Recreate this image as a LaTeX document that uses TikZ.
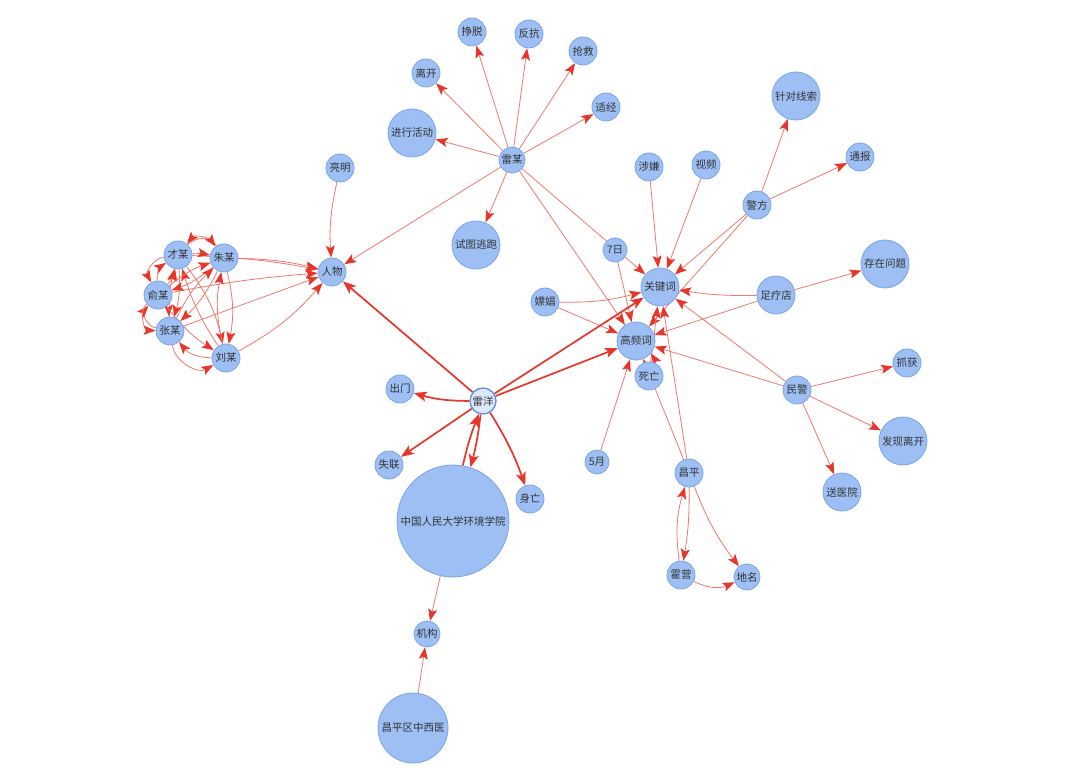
\documentclass[tikz,border=0pt]{standalone}
\usepackage{fontspec}
\setmainfont{Noto Sans CJK SC}
\usetikzlibrary{arrows.meta}
\definecolor{nfill}{HTML}{9DBFF4}
\definecolor{nbord}{HTML}{78A4EC}
\definecolor{ered}{HTML}{F0786C}
\definecolor{ared}{HTML}{E8352A}
\definecolor{tgray}{HTML}{333333}
\definecolor{lyfill}{HTML}{DCE9FC}
\definecolor{lybord}{HTML}{5B8FE0}
\pgfdeclarelayer{bg}
\pgfsetlayers{bg,main}
\begin{document}
\begin{tikzpicture}[x=1pt,y=-1pt,
  nd/.style={circle,draw=nbord,fill=nfill,line width=0.8pt,inner sep=0pt,text=tgray,font=\fontsize{10.5}{12}\selectfont},
  s/.style={nd,minimum size=28pt},
  m/.style={nd,minimum size=38pt},
  l/.style={nd,minimum size=48pt},
  ln/.style={draw=ered,line width=0.8pt,-{Stealth[length=12pt,width=9pt,inset=2.5pt,color=ared]}},
  th/.style={draw=ared,line width=1.7pt,-{Stealth[length=13pt,width=10pt,inset=3pt]}}]
\useasboundingbox (0,0) rectangle (1080,770);
% nodes
\node[s] (liangming) at (340,168) {亮明};
\node[s] (renwu) at (332,272) {人物};
\node[s] (caimou) at (178,255) {才某};
\node[s] (zhumou) at (224,258) {朱某};
\node[s] (yumou) at (158,295) {俞某};
\node[s] (zhangmou) at (170,331) {张某};
\node[s] (liumou) at (226,358) {刘某};
\node[s,minimum size=26pt] (leimou) at (512,160) {雷某};
\node[s] (likai) at (426,73) {离开};
\node[s] (zhengtuo) at (472,32) {挣脱};
\node[s] (fankang) at (529,34) {反抗};
\node[s] (qiangjiu) at (583,51) {抢救};
\node[s] (shijing) at (606,107) {适经};
\node[l] (jinxing) at (412,133) {进行活动};
\node[l] (shitu) at (476,245) {试图逃跑};
\node[s,minimum size=24pt] (qiri) at (615,250) {7日};
\node[s] (shexian) at (649,167) {涉嫌};
\node[s] (shipin) at (706,165) {视频};
\node[s] (jingfang) at (757,205) {警方};
\node[l] (zhendui) at (796,96) {针对线索};
\node[s] (tongbao) at (860,157) {通报};
\node[l] (cunzai) at (885,264) {存在问题};
\node[m] (zuliao) at (776,295) {足疗店};
\node[m] (guanjian) at (660,287) {关键词};
\node[s] (piaochang) at (545,302) {嫖娼};
\node[m] (gaopin) at (636,341) {高频词};
\node[s] (siwang) at (649,376) {死亡};
\node[s] (minjing) at (797,390) {民警};
\node[s] (zhuahuo) at (907,363) {抓获};
\node[l] (faxian) at (903,441) {发现离开};
\node[m] (songyi) at (842,492) {送医院};
\node[circle,draw=lybord,fill=lyfill,line width=1.3pt,inner sep=0pt,minimum size=26pt,text=tgray,font=\fontsize{10.5}{12}\selectfont] (leiyang) at (483,401) {雷洋};
\node[s] (chumen) at (400,389) {出门};
\node[s] (shilian) at (389,465) {失联};
\node[s] (shenwang) at (530,499) {身亡};
\node[nd,minimum size=112pt] (renda) at (453,521) {中国人民大学环境学院};
\node[s,minimum size=26pt] (jigou) at (427,634) {机构};
\node[nd,minimum size=70pt] (cpzx) at (413,728) {昌平区中西医};
\node[s,minimum size=24pt] (wuyue) at (597,462) {5月};
\node[s] (changping) at (689,473) {昌平};
\node[s] (huoying) at (681,575) {霍营};
\node[s,minimum size=26pt] (diming) at (747,577) {地名};
% edges
\begin{pgfonlayer}{bg}
\foreach \t in {likai,zhengtuo,fankang,qiangjiu,shijing,jinxing,shitu,renwu,guanjian,gaopin}
  \draw[ln] (leimou) -- (\t);
\draw[ln] (qiri) -- (gaopin);
\draw[ln] (shexian) -- (guanjian);
\draw[ln] (shipin) -- (guanjian);
\draw[ln] (jingfang) -- (guanjian);
\draw[ln] (jingfang) -- (gaopin);
\draw[ln] (jingfang) -- (zhendui);
\draw[ln] (jingfang) -- (tongbao);
\draw[ln] (zuliao) to[bend left=5] (guanjian);
\draw[ln] (zuliao) -- (gaopin);
\draw[ln] (zuliao) -- (cunzai);
\draw[ln] (piaochang) to[bend right=8] (guanjian);
\draw[ln] (piaochang) -- (gaopin);
\draw[ln] (siwang) -- (guanjian);
\draw[ln] (siwang) to[bend right=30] (gaopin);
\draw[ln] (wuyue) -- (gaopin);
\draw[ln] (changping) -- (gaopin);
\draw[ln] (changping) -- (guanjian);
\draw[ln] (changping) to[bend left=5] (huoying);
\draw[ln] (huoying) to[bend left=12] (changping);
\draw[ln] (changping) to[bend right=8] (diming);
\draw[ln] (huoying) to[bend right=25] (diming);
\draw[ln] (minjing) -- (guanjian);
\draw[ln] (minjing) -- (gaopin);
\draw[ln] (minjing) -- (zhuahuo);
\draw[ln] (minjing) -- (faxian);
\draw[ln] (minjing) -- (songyi);
\draw[ln] (renda) -- (jigou);
\draw[ln] (cpzx) -- (jigou);
\draw[ln] (liangming) to[bend right=8] (renwu);
% thick edges from leiyang
\draw[th] (leiyang) -- (renwu);
\draw[th] (leiyang) -- (guanjian);
\draw[th] (leiyang) -- (gaopin);
\draw[th] (leiyang) to[bend left=8] (chumen);
\draw[th] (leiyang) -- (shilian);
\draw[th] (leiyang) to[bend left=6] (shenwang);
\draw[th] (leiyang) to[bend left=4] (renda);
\draw[th] (renda) to[bend left=4] (leiyang);
% cluster to renwu
\draw[ln] (caimou) to[bend left=4] (renwu);
\draw[ln] (zhumou) to[bend left=6] (renwu);
\draw[ln] (yumou) to[bend left=3] (renwu);
\draw[ln] (zhangmou) -- (renwu);
\draw[ln] (liumou) to[bend right=10] (renwu);
% cluster internal
\draw[ln] (caimou) to[bend left=8] (zhumou);
\draw[ln] (zhumou) to[bend right=55] (caimou);
\draw[ln] (caimou) to[bend left=50] (zhumou);
\draw[ln] (caimou) to[bend right=55] (yumou);
\draw[ln] (yumou) to[bend right=15] (caimou);
\draw[ln] (yumou) to[bend left=30] (caimou);
\draw[ln] (caimou) to[bend left=10] (zhangmou);
\draw[ln] (zhangmou) to[bend left=8] (caimou);
\draw[ln] (caimou) to[bend left=12] (liumou);
\draw[ln] (liumou) to[bend left=8] (caimou);
\draw[ln] (zhumou) to[bend left=10] (yumou);
\draw[ln] (yumou) to[bend left=10] (zhumou);
\draw[ln] (zhumou) to[bend left=10] (zhangmou);
\draw[ln] (zhangmou) to[bend left=10] (zhumou);
\draw[ln] (zhumou) to[bend left=12] (liumou);
\draw[ln] (liumou) to[bend left=12] (zhumou);
\draw[ln] (yumou) to[bend left=15] (zhangmou);
\draw[ln] (zhangmou) to[bend left=60] (yumou);
\draw[ln] (yumou) to[bend right=70] (zhangmou);
\draw[ln] (zhangmou) to[bend right=55] (liumou);
\draw[ln] (liumou) to[bend left=25] (zhangmou);
\draw[ln] (yumou) to[bend right=10] (liumou);
\end{pgfonlayer}
\end{tikzpicture}
\end{document}
